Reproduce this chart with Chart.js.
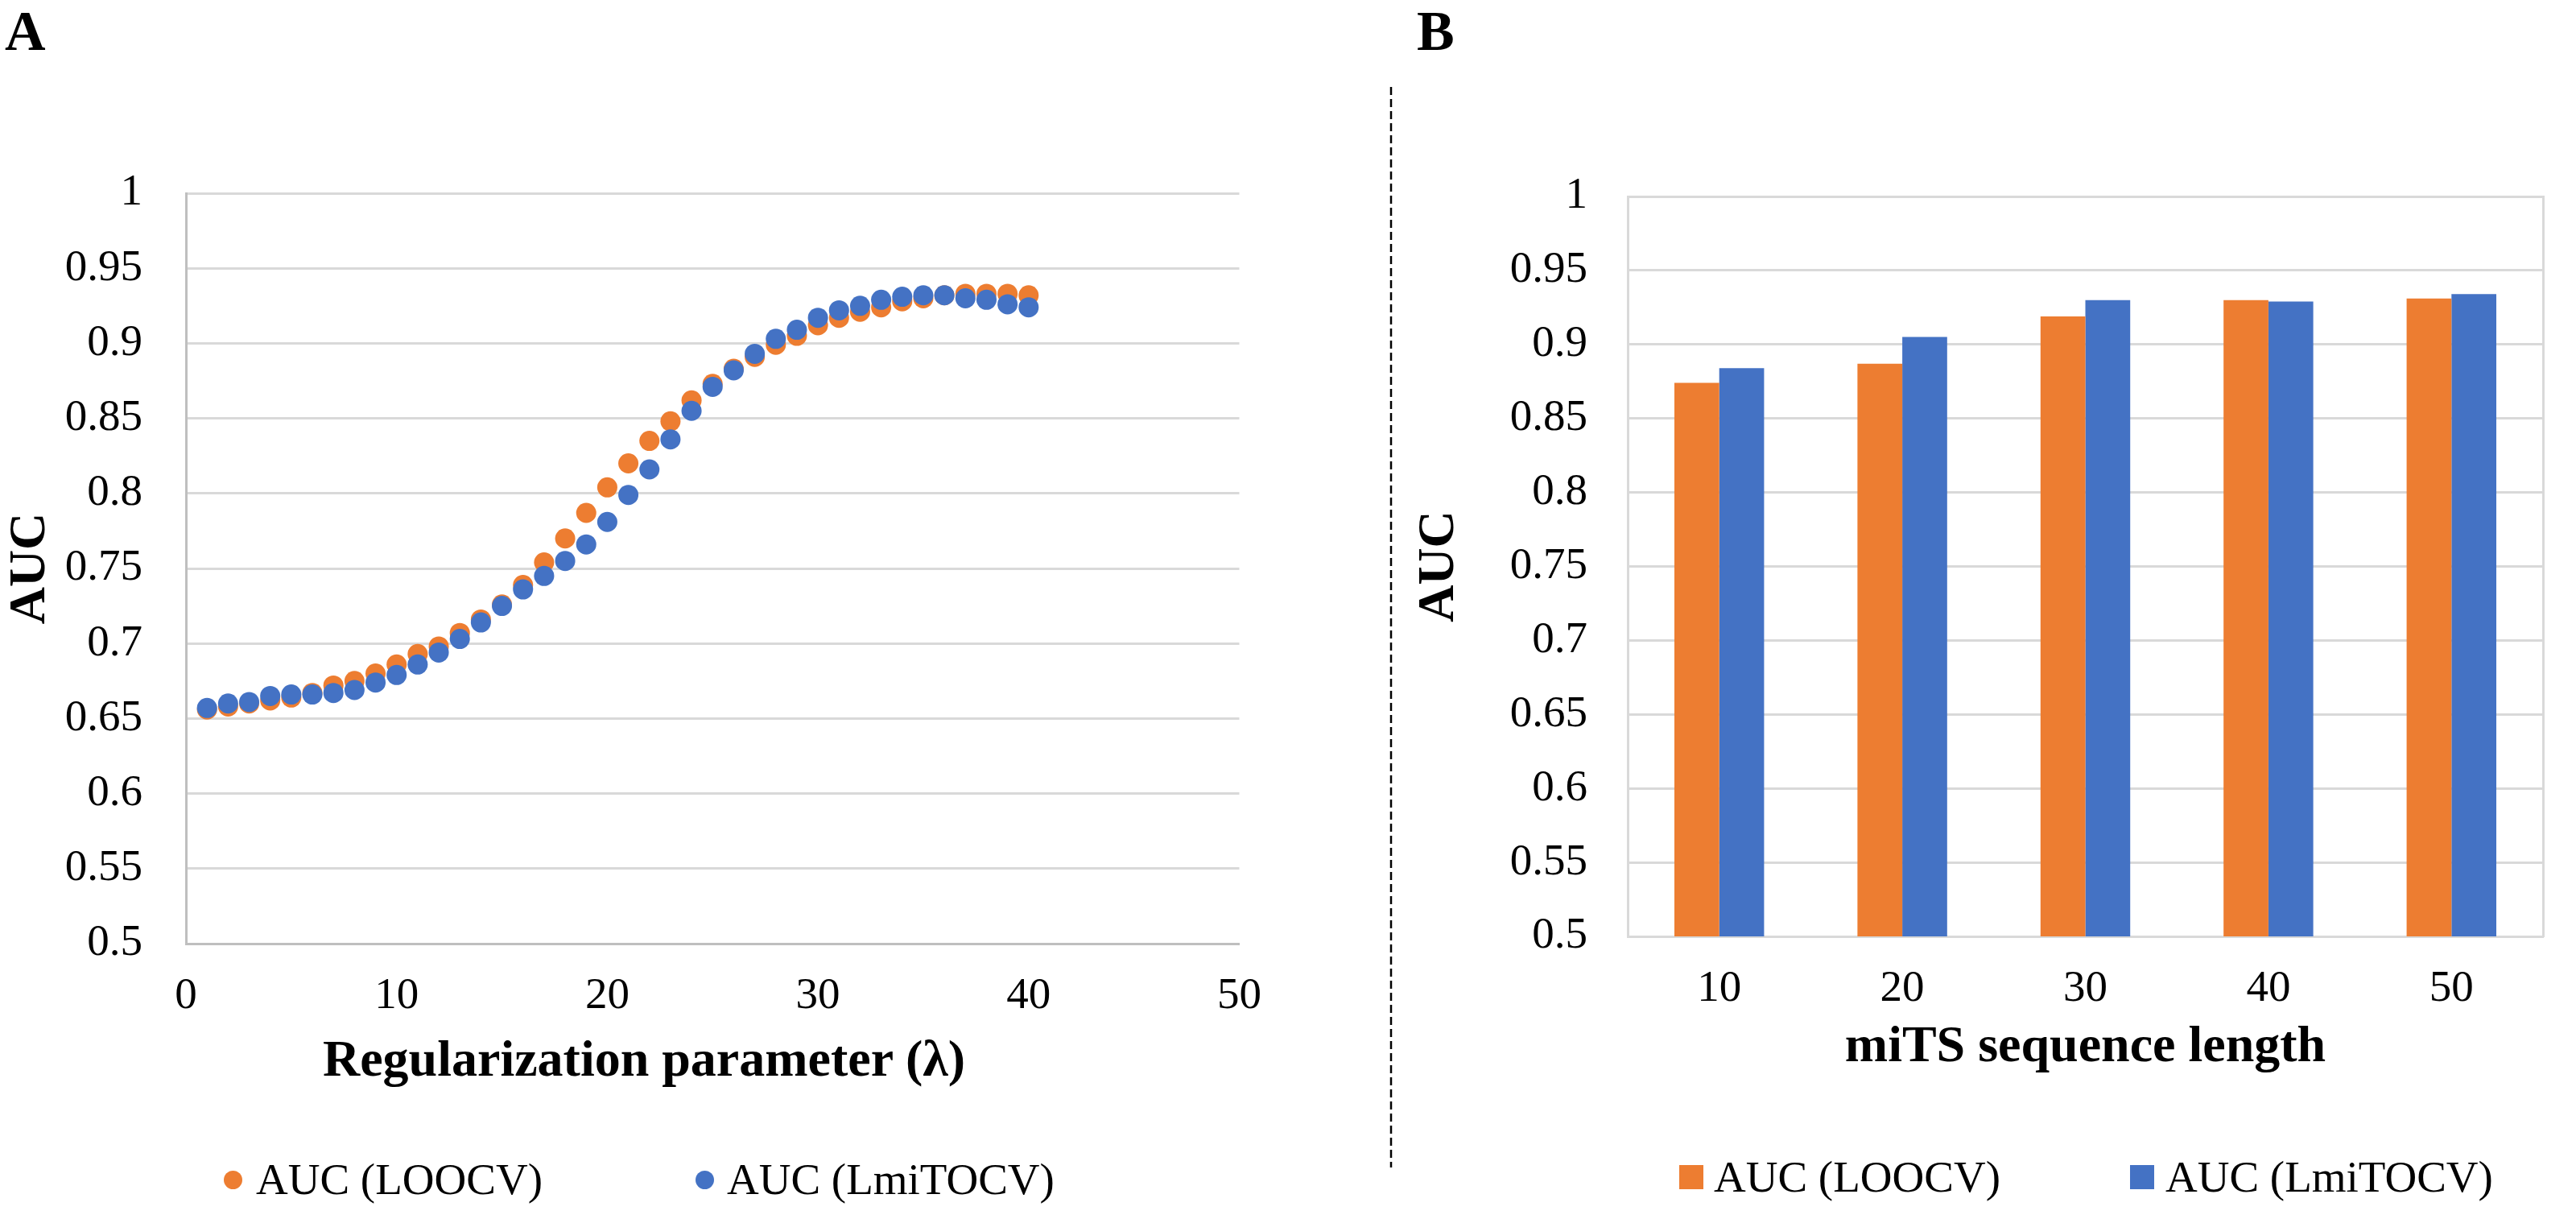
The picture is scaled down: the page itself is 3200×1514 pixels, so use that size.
<!DOCTYPE html>
<html>
<head>
<meta charset="utf-8">
<script src="https://cdn.jsdelivr.net/npm/chart.js@4.4.1/dist/chart.umd.min.js"></script>
<style>
  html, body { margin: 0; padding: 0; background: #fff; }
  body { width: 3200px; height: 1514px; position: relative; overflow: hidden;
         font-family: 'Liberation Serif', 'Times New Roman', serif; color: #000; }
  canvas { position: absolute; top: 0; }
  .lbl { position: absolute; white-space: nowrap; }
  .panel { font-weight: bold; font-size: 70px; line-height: 70px; }
  .xtitle { font-weight: bold; font-size: 64px; line-height: 64px; transform: translateX(-50%); }
  .leg { font-size: 55px; line-height: 55px; }
  .mk { position: absolute; }
</style>
</head>
<body>
<div class="lbl panel" style="left:6px;top:4px;">A</div>
<div class="lbl panel" style="left:1760px;top:4px;">B</div>
<svg style="position:absolute;left:1720px;top:0" width="16" height="1514">
  <line x1="8" y1="108" x2="8" y2="1450" stroke="#000" stroke-width="2.5" stroke-dasharray="10 5"/>
</svg>
<canvas id="chartA" width="1600" height="1400" style="left:0;width:1600px;height:1400px;"></canvas>
<canvas id="chartB" width="1450" height="1400" style="left:1750px;width:1450px;height:1400px;"></canvas>
<div id="xtitleA" class="lbl xtitle" style="left:800px;top:1283px;"></div>
<div id="legends"></div>
<script>
// ---------------- data ----------------
const seriesNames = ['AUC (LOOCV)', 'AUC (LmiTOCV)'];
const seriesColors = ['#ED7D31', '#4472C4'];

// Panel A: AUC vs regularization parameter
const lambdaValues = [1, 2, 3, 4, 5, 6, 7, 8, 9, 10,
  11, 12, 13, 14, 15, 16, 17, 18, 19, 20,
  21, 22, 23, 24, 25, 26, 27, 28, 29, 30,
  31, 32, 33, 34, 35, 36, 37, 38, 39, 40];
const aucLOOCV = [0.656, 0.658, 0.660, 0.662, 0.664, 0.667, 0.672, 0.675, 0.680, 0.686,
  0.693, 0.698, 0.707, 0.716, 0.726, 0.739, 0.754, 0.770, 0.787, 0.804,
  0.820, 0.835, 0.848, 0.862, 0.873, 0.883, 0.891, 0.899, 0.905, 0.912,
  0.917, 0.921, 0.924, 0.928, 0.930, 0.932, 0.933, 0.933, 0.933, 0.932];
const aucLmiTOCV = [0.657, 0.660, 0.661, 0.665, 0.666, 0.666, 0.667, 0.669, 0.674, 0.679,
  0.686, 0.694, 0.703, 0.714, 0.725, 0.736, 0.745, 0.755, 0.766, 0.781,
  0.799, 0.816, 0.836, 0.855, 0.871, 0.882, 0.893, 0.903, 0.909, 0.917,
  0.922, 0.925, 0.929, 0.931, 0.932, 0.932, 0.930, 0.929, 0.926, 0.924];
const xTicksA = [0, 10, 20, 30, 40, 50];
const xTitleA = 'Regularization parameter (\u03BB)';

// Panel B: AUC vs miTS sequence length
const seqLengths = ['10', '20', '30', '40', '50'];
const barLOOCV = [0.874, 0.887, 0.919, 0.930, 0.931];
const barLmiTOCV = [0.884, 0.905, 0.930, 0.929, 0.934];
const xTitleB = 'miTS sequence length';

const yTicks = [0.5, 0.55, 0.6, 0.65, 0.7, 0.75, 0.8, 0.85, 0.9, 0.95, 1];
const yTitle = 'AUC';

// ---------------- styling ----------------
const FONT = "'Liberation Serif', 'Times New Roman', serif";
Chart.defaults.font.family = FONT;
Chart.defaults.color = '#000';
const tickFont = { family: FONT, size: 55 };
const titleFont = { family: FONT, size: 64, weight: 'bold' };
const gridColor = '#D9D9D9';
const axisColor = '#BFBFBF';

function setTicks(list) {
  return function (scale) { scale.ticks = list.map(v => ({ value: v })); };
}

// ---------------- chart A ----------------
document.getElementById('xtitleA').textContent = xTitleA;
new Chart(document.getElementById('chartA'), {
  type: 'scatter',
  data: {
    datasets: [
      { label: seriesNames[0], data: lambdaValues.map((x, i) => ({ x, y: aucLOOCV[i] })),
        backgroundColor: seriesColors[0], borderWidth: 0, pointRadius: 12.5, order: 1 },
      { label: seriesNames[1], data: lambdaValues.map((x, i) => ({ x, y: aucLmiTOCV[i] })),
        backgroundColor: seriesColors[1], borderWidth: 0, pointRadius: 12.5, order: 0 }
    ]
  },
  options: {
    responsive: false, animation: false, devicePixelRatio: 1,
    layout: { padding: { top: 240, right: 57, bottom: 0, left: 0 } },
    plugins: { legend: { display: false }, tooltip: { enabled: false } },
    scales: {
      x: {
        type: 'linear', min: 0, max: 50,
        afterBuildTicks: setTicks(xTicksA),
        afterFit: s => { s.height = 228; },
        ticks: { font: tickFont, padding: 33, callback: v => String(v), autoSkip: false, maxRotation: 0 },
        grid: { display: false, drawTicks: false },
        border: { display: true, color: axisColor, width: 3 }
      },
      y: {
        type: 'linear', min: 0.5, max: 1,
        afterBuildTicks: setTicks(yTicks),
        afterFit: s => { s.width = 231; },
        ticks: { font: tickFont, padding: 54, callback: v => String(v), autoSkip: false },
        grid: { color: gridColor, lineWidth: 3, drawTicks: false },
        border: { display: true, color: axisColor, width: 3 },
        title: { display: true, text: yTitle, font: titleFont, padding: 0, color: '#000' }
      }
    }
  }
});

// ---------------- chart B ----------------
new Chart(document.getElementById('chartB'), {
  type: 'bar',
  data: {
    labels: seqLengths,
    datasets: [
      { label: seriesNames[0], data: barLOOCV, backgroundColor: seriesColors[0], borderWidth: 0,
        barPercentage: 1, categoryPercentage: 0.49, yAxisID: 'y' },
      { label: seriesNames[1], data: barLmiTOCV, backgroundColor: seriesColors[1], borderWidth: 0,
        barPercentage: 1, categoryPercentage: 0.49, yAxisID: 'y' }
    ]
  },
  options: {
    responsive: false, animation: false, devicePixelRatio: 1,
    layout: { padding: { top: 244, right: 41, bottom: 0, left: 0 } },
    plugins: { legend: { display: false }, tooltip: { enabled: false } },
    scales: {
      x: {
        afterFit: s => { s.height = 237; },
        ticks: { font: tickFont, padding: 33, autoSkip: false, maxRotation: 0 },
        grid: { display: false, drawTicks: false },
        border: { display: true, color: gridColor, width: 3 },
        title: { display: true, text: xTitleB, font: titleFont, padding: { top: 0, bottom: 60 }, color: '#000' }
      },
      y: {
        type: 'linear', position: 'left', min: 0.5, max: 1,
        afterBuildTicks: setTicks(yTicks),
        afterFit: s => { s.width = 272; },
        ticks: { font: tickFont, padding: 50, callback: v => String(v), autoSkip: false },
        grid: { color: gridColor, lineWidth: 3, drawTicks: false },
        border: { display: true, color: gridColor, width: 3 },
        title: { display: true, text: yTitle, font: titleFont, padding: 0, color: '#000' }
      },
      yR: {
        type: 'linear', position: 'right', min: 0.5, max: 1,
        afterFit: s => { s.width = 0; },
        ticks: { display: false },
        grid: { display: false, drawTicks: false },
        border: { display: true, color: gridColor, width: 3 }
      }
    }
  }
});

// ---------------- legends (HTML) ----------------
const legendSpecs = [
  // panel A: round markers
  { shape: 'circle', size: 23, cy: 1465, items: [ { mx: 289, tx: 318 }, { mx: 875, tx: 903 } ] },
  // panel B: square markers
  { shape: 'square', size: 30, cy: 1462, items: [ { mx: 2101, tx: 2129 }, { mx: 2661, tx: 2690 } ] }
];
const legendHost = document.getElementById('legends');
legendSpecs.forEach(spec => {
  spec.items.forEach((it, i) => {
    const m = document.createElement('div');
    m.className = 'mk';
    m.style.left = (it.mx - spec.size / 2) + 'px';
    m.style.top = (spec.cy - spec.size / 2) + 'px';
    m.style.width = spec.size + 'px';
    m.style.height = spec.size + 'px';
    m.style.background = seriesColors[i];
    if (spec.shape === 'circle') m.style.borderRadius = '50%';
    legendHost.appendChild(m);
    const t = document.createElement('div');
    t.className = 'lbl leg';
    t.style.left = it.tx + 'px';
    t.style.top = (spec.cy - 28) + 'px';
    t.textContent = seriesNames[i];
    legendHost.appendChild(t);
  });
});
</script>
</body>
</html>
